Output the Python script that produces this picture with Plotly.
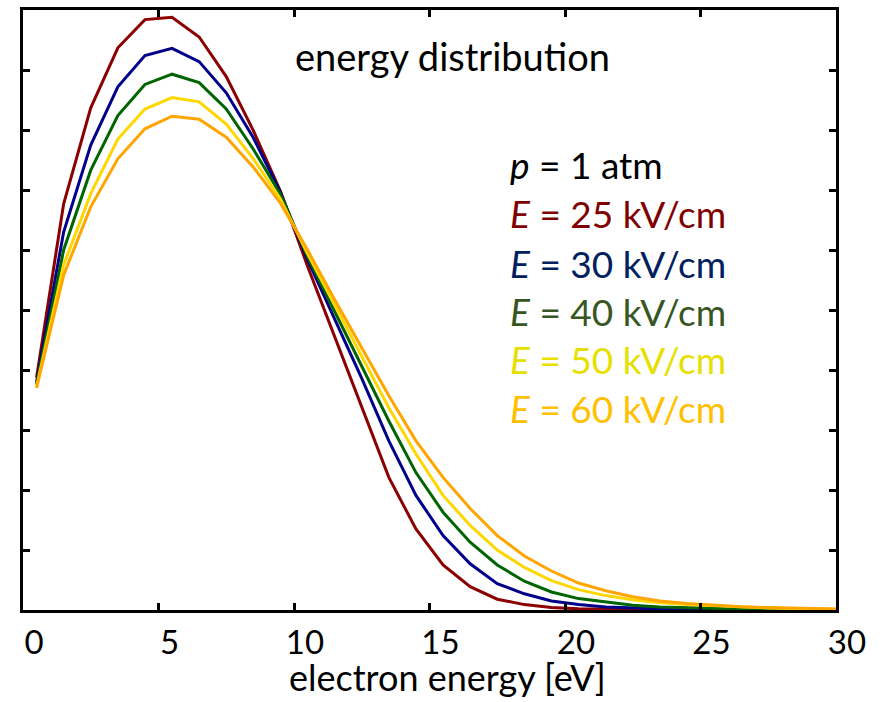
import plotly.graph_objects as go

energy = [0.5 + i for i in range(30)] + [30.0]

f_25 = [3.87, 6.77, 8.37, 9.37, 9.84, 9.88, 9.55, 8.89, 7.99, 6.98,
        5.73, 4.56, 3.38, 2.21, 1.35, 0.75, 0.39, 0.18, 0.09, 0.04,
        0.02, 0.01, 0.005, 0.0, 0.0, 0.0, 0.0, 0.0, 0.0, 0.0, 0.0]
f_30 = [3.80, 6.30, 7.75, 8.72, 9.24, 9.36, 9.14, 8.62, 7.87, 6.96,
        5.84, 4.86, 3.86, 2.82, 1.91, 1.24, 0.77, 0.44, 0.27, 0.15,
        0.09, 0.05, 0.03, 0.02, 0.01, 0.005, 0.0, 0.0, 0.0, 0.0, 0.0]
f_40 = [3.76, 6.00, 7.33, 8.24, 8.76, 8.93, 8.79, 8.35, 7.68, 6.93,
        5.89, 4.98, 4.06, 3.15, 2.29, 1.63, 1.13, 0.75, 0.48, 0.30,
        0.19, 0.13, 0.08, 0.05, 0.035, 0.025, 0.015, 0.01, 0.005, 0.0, 0.0]
f_50 = [3.72, 5.75, 6.94, 7.85, 8.35, 8.54, 8.47, 8.10, 7.52, 6.85,
        5.94, 5.09, 4.23, 3.37, 2.60, 1.91, 1.41, 1.00, 0.71, 0.49,
        0.34, 0.24, 0.17, 0.12, 0.09, 0.07, 0.05, 0.035, 0.025, 0.015, 0.012]
f_60 = [3.70, 5.58, 6.72, 7.52, 8.02, 8.23, 8.18, 7.88, 7.38, 6.78,
        6.00, 5.17, 4.37, 3.57, 2.82, 2.21, 1.69, 1.24, 0.90, 0.65,
        0.45, 0.32, 0.22, 0.15, 0.11, 0.08, 0.055, 0.04, 0.03, 0.02, 0.017]

series = [("25", f_25), ("30", f_30), ("40", f_40), ("50", f_50), ("60", f_60)]
line_colors = ["#8B0000", "#00008B", "#006400", "#FFD700", "#FFA500"]
text_colors = ["#7F0000", "#002060", "#375623", "#E6E000", "#FFC000"]

FONT = "Lato"

fig = go.Figure()
for (lab, ys), c in zip(series, line_colors):
    fig.add_trace(go.Scatter(x=energy, y=ys, mode="lines", name=f"E = {lab} kV/cm",
                             line=dict(color=c, width=3), showlegend=False))

fig.add_annotation(text="energy distribution", xref="paper", yref="paper",
                   x=0.528, y=0.923, xanchor="center", yanchor="middle", showarrow=False,
                   font=dict(family=FONT, size=38, color="black"))

legend_y = [0.742, 0.660, 0.578, 0.498, 0.417, 0.336]
fig.add_annotation(text="<i>p</i> = 1 atm", xref="paper", yref="paper",
                   x=0.596, y=legend_y[0], xanchor="left", yanchor="middle", showarrow=False,
                   font=dict(family=FONT, size=37, color="black"))
for (lab, _), tc, yy in zip(series, text_colors, legend_y[1:]):
    fig.add_annotation(text=f"<i>E</i> = {lab} kV/cm", xref="paper", yref="paper",
                       x=0.596, y=yy, xanchor="left", yanchor="middle", showarrow=False,
                       font=dict(family=FONT, size=37, color=tc))

fig.add_annotation(text="electron energy [eV]", xref="paper", yref="paper",
                   x=0.522, y=-0.112, xanchor="center", yanchor="middle", showarrow=False,
                   font=dict(family=FONT, size=36, color="black"))

fig.update_layout(
    width=892, height=702,
    margin=dict(l=23, r=56, t=7, b=92),
    paper_bgcolor="white", plot_bgcolor="white",
    font=dict(family=FONT, color="black"),
)
fig.update_xaxes(range=[0, 30], dtick=5, tick0=0, showgrid=False, zeroline=False,
                 showline=True, linecolor="black", linewidth=3, mirror="ticks",
                 ticks="inside", ticklen=7, tickwidth=2.5, tickcolor="black",
                 tickfont=dict(family=FONT, size=33, color="black"),
                 ticklabelstandoff=1, ticklabelshift=11)
fig.update_yaxes(range=[0, 10], dtick=1, tick0=0, showgrid=False, zeroline=False,
                 showline=True, linecolor="black", linewidth=3, mirror="ticks",
                 ticks="inside", ticklen=7, tickwidth=2.5, tickcolor="black",
                 showticklabels=False)

fig.write_html("out.html")
